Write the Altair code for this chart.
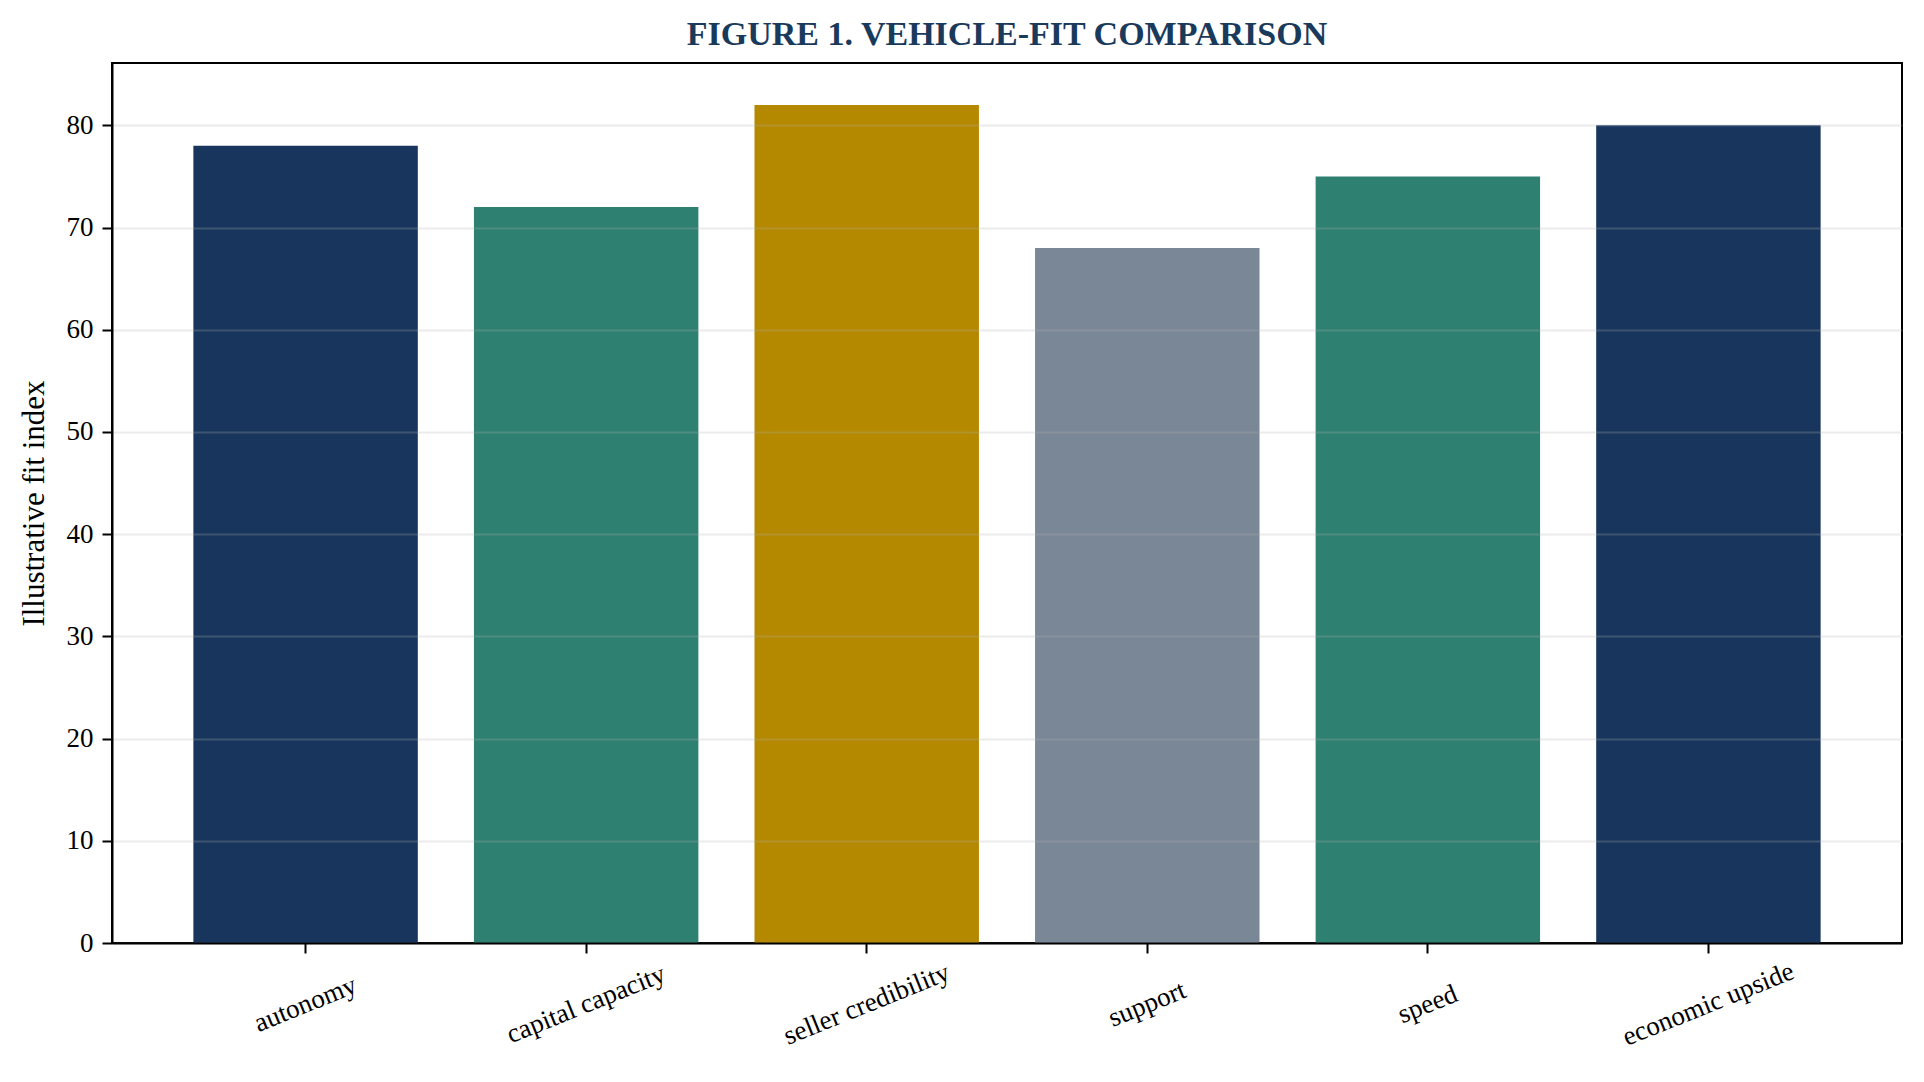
import altair as alt
import pandas as pd

categories = ["autonomy", "capital capacity", "seller credibility", "support", "speed", "economic upside"]
values = [78, 72, 82, 68, 75, 80]
bar_colors = ["#18365D", "#2E8070", "#B48900", "#7A8796", "#2E8070", "#18365D"]
y_ticks = [0, 10, 20, 30, 40, 50, 60, 70, 80]

df = pd.DataFrame({"category": categories, "value": values, "color": bar_colors})

FONT = "Liberation Serif"

chart = alt.Chart(df).mark_bar().encode(
    x=alt.X(
        "category:N",
        sort=categories,
        scale=alt.Scale(paddingInner=0.2, paddingOuter=0.29),
        axis=alt.Axis(
            title=None,
            labelAngle=-22,
            labelAlign="center",
            labelBaseline="middle",
            labelPadding=51,
            labelFontSize=27,
            labelFont=FONT,
            labelColor="black",
            labelLimit=500,
            labelOverlap=False,
            tickSize=10,
            tickWidth=2,
            tickColor="black",
            domainColor="black",
            domainWidth=2,
            grid=False,
            zindex=1,
        ),
    ),
    y=alt.Y(
        "value:Q",
        scale=alt.Scale(domain=[0, 86.1], nice=False, zero=True),
        axis=alt.Axis(
            title="Illustrative fit index",
            titleFont=FONT,
            titleFontSize=31,
            titleFontWeight="normal",
            titleColor="black",
            titlePadding=16,
            values=y_ticks,
            format="d",
            labelFontSize=27,
            labelFont=FONT,
            labelColor="black",
            labelPadding=9,
            tickSize=10,
            tickWidth=2,
            tickColor="black",
            domainColor="black",
            domainWidth=2,
            grid=True,
            gridColor="#b0b0b0",
            gridOpacity=0.25,
            gridWidth=2,
            zindex=1,
        ),
    ),
    color=alt.Color("color:N", scale=None, legend=None),
).properties(
    width=1790,
    height=880,
    title=alt.TitleParams(
        "FIGURE 1. VEHICLE-FIT COMPARISON",
        font=FONT,
        fontSize=34,
        fontWeight="bold",
        color="#1A3A5C",
        anchor="middle",
        offset=11,
    ),
    autosize=alt.AutoSizeParams(type="none"),
    padding={"left": 104, "top": 55, "right": 14, "bottom": 120},
).configure_view(
    stroke="black",
    strokeWidth=2,
)

chart.save("out.html", embed_options={"renderer": "svg", "actions": False})
